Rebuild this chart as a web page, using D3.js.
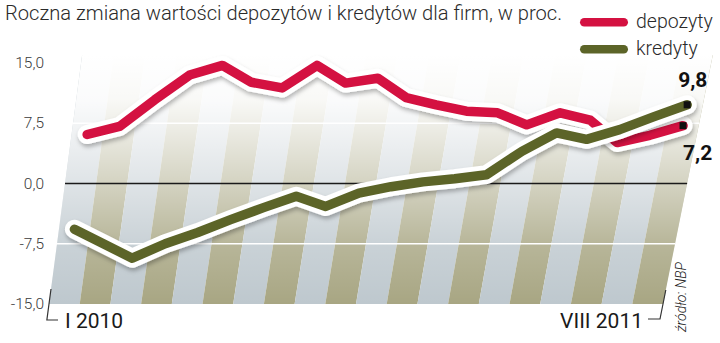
<!DOCTYPE html>
<html>
<head>
<meta charset="utf-8">
<script src="https://cdn.jsdelivr.net/npm/d3@7"></script>
<style>
  body { margin: 0; background: #fff; }
  svg { display: block; font-family: Roboto, "Noto Sans", sans-serif; }
</style>
</head>
<body>
<div id="chart"></div>
<script>
// Data
const months = ["I 2010", "II 2010", "III 2010", "IV 2010", "V 2010", "VI 2010", "VII 2010",
                "VIII 2010", "IX 2010", "X 2010", "XI 2010", "XII 2010", "I 2011", "II 2011",
                "III 2011", "IV 2011", "V 2011", "VI 2011", "VII 2011", "VIII 2011"];
const depozyty = [6.1, 7.1, 10.4, 13.5, 14.7, 12.6, 11.9, 14.7, 12.5, 13.1,
                  10.7, 9.8, 9.0, 8.8, 7.3, 8.8, 7.9, 5.1, 6.0, 7.2];
const kredyty = [-5.7, -7.5, -9.3, -7.5, -6.1, -4.5, -3.0, -1.6, -2.85, -1.2,
                 -0.4, 0.2, 0.6, 1.1, 4.0, 6.3, 5.5, 6.7, 8.3, 9.8];
const yTicks = [-15, -7.5, 0, 7.5, 15];
const seriesNames = ["depozyty", "kredyty"];
const colors = { depozyty: "#d41141", kredyty: "#5c6428" };

// Configuration
const width = 720, height = 343;
const plot = { left: 49, right: 663, top: 63, bottom: 304 };

const svg = d3.select("#chart")
    .append("svg")
    .attr("width", width)
    .attr("height", height);

const locale = d3.formatLocale({ decimal: ",", thousands: " ", grouping: [3], currency: ["", " zł"], minus: "-" });
const fmt = locale.format(".1f");

const x = d3.scaleBand().domain(months).range([plot.left, plot.right]);
const y = d3.scaleLinear().domain([-15, 15]).range([plot.bottom, plot.top]);

// slanted (perspective-like) projection of the plot area
function proj(xb, yy) {
    const k = 0.133 + (xb - plot.left) / (plot.right - plot.left) * 0.067;
    return [xb + (plot.bottom - yy) * k, yy];
}

const defs = svg.append("defs");
const fade = defs.append("linearGradient")
    .attr("id", "fade")
    .attr("gradientUnits", "userSpaceOnUse")
    .attr("x1", 0).attr("x2", 0).attr("y1", 55).attr("y2", plot.bottom);
[[0, 1], [0.18, 0.93], [0.27, 0.82], [0.52, 0.5], [0.76, 0.18], [1, 0]].forEach(([o, a]) => {
    fade.append("stop").attr("offset", o).attr("stop-color", "#fff").attr("stop-opacity", a);
});
defs.append("filter")
    .attr("id", "shadow")
    .attr("x", "-10%").attr("y", "-20%").attr("width", "120%").attr("height", "150%")
    .append("feDropShadow")
    .attr("dx", 1).attr("dy", 3).attr("stdDeviation", 2.2)
    .attr("flood-color", "#000").attr("flood-opacity", 0.28);

// Stripes
const bgTop = 55;
svg.append("g")
    .selectAll("polygon")
    .data(months)
    .join("polygon")
    .attr("points", d => {
        const x0 = x(d), x1 = x(d) + x.bandwidth();
        return [proj(x0, plot.bottom), proj(x1, plot.bottom), proj(x1, bgTop), proj(x0, bgTop)]
            .map(p => p.join(",")).join(" ");
    })
    .attr("fill", (d, i) => i % 2 ? "#a8a683" : "#bec8ce");

svg.append("polygon")
    .attr("points", [proj(plot.left, plot.bottom), proj(plot.right, plot.bottom),
                     proj(plot.right, bgTop), proj(plot.left, bgTop)].map(p => p.join(",")).join(" "))
    .attr("fill", "url(#fade)");

// Grid lines
svg.append("g")
    .selectAll("line")
    .data(yTicks.filter(d => d !== 0 && Math.abs(d) < 15))
    .join("line")
    .attr("x1", d => proj(plot.left, y(d))[0])
    .attr("x2", d => proj(plot.right, y(d))[0])
    .attr("y1", d => y(d))
    .attr("y2", d => y(d))
    .attr("stroke", "#fff")
    .attr("stroke-width", 1.5);

svg.append("line")
    .attr("x1", proj(plot.left, y(0))[0])
    .attr("x2", proj(plot.right, y(0))[0])
    .attr("y1", y(0))
    .attr("y2", y(0))
    .attr("stroke", "#1a1a1a")
    .attr("stroke-width", 1.6);

// Y axis
const yAxis = svg.append("g")
    .attr("transform", `translate(44, 0)`)
    .call(d3.axisLeft(y).tickValues(yTicks).tickSize(0).tickPadding(0).tickFormat(fmt));
yAxis.select(".domain").remove();
yAxis.selectAll("text")
    .attr("font-family", "Roboto, sans-serif")
    .attr("font-size", 15.5)
    .attr("font-weight", 300)
    .attr("fill", "#3a3a3a")
    .attr("dy", "0.3em");

// Lines
const line = d3.line().curve(d3.curveLinear);
const series = { depozyty, kredyty };
const lastPoints = {};
seriesNames.forEach(name => {
    const pts = series[name].map((v, i) => proj(x(months[i]) + x.bandwidth() / 2, y(v)));
    const g = svg.append("g");
    g.append("path")
        .attr("d", line(pts))
        .attr("fill", "none")
        .attr("stroke", "#fff")
        .attr("stroke-width", 19)
        .attr("stroke-linejoin", "round")
        .attr("stroke-linecap", "round")
        .attr("filter", "url(#shadow)");
    g.append("path")
        .attr("d", line(pts))
        .attr("fill", "none")
        .attr("stroke", colors[name])
        .attr("stroke-width", 9.5)
        .attr("stroke-linejoin", "round")
        .attr("stroke-linecap", "round");
    const last = pts[pts.length - 1];
    g.append("rect")
        .attr("x", last[0] - 3.5)
        .attr("y", last[1] - 3.5)
        .attr("width", 7)
        .attr("height", 7)
        .attr("fill", "#111");
    lastPoints[name] = last;
});

// End labels
const kLast = lastPoints.kredyty, dLast = lastPoints.depozyty;
svg.append("text")
    .attr("x", kLast[0] - 9)
    .attr("y", kLast[1] - 18)
    .attr("font-size", 21)
    .attr("font-weight", 700)
    .attr("fill", "#111")
    .text(fmt(kredyty[kredyty.length - 1]));
svg.append("text")
    .attr("x", dLast[0])
    .attr("y", dLast[1] + 34)
    .attr("font-size", 21)
    .attr("font-weight", 700)
    .attr("fill", "#111")
    .text(fmt(depozyty[depozyty.length - 1]));

// X labels and corner marks
const leftMark = [proj(plot.left, 289), proj(plot.left, 320), [58, 320]];
const rightMark = [proj(plot.right, 290), proj(plot.right, 319), [648, 319]];
[leftMark, rightMark].forEach(m => {
    svg.append("path")
        .attr("d", d3.line()(m))
        .attr("fill", "none")
        .attr("stroke", "#333")
        .attr("stroke-width", 1.2);
});
svg.append("text")
    .attr("x", x(months[0]) + 16)
    .attr("y", 328)
    .attr("font-size", 21)
    .attr("fill", "#1a1a1a")
    .text(months[0]);
svg.append("text")
    .attr("x", x(months[months.length - 1]) + x.bandwidth() - 20)
    .attr("y", 328)
    .attr("text-anchor", "end")
    .attr("font-size", 21)
    .attr("fill", "#1a1a1a")
    .text(months[months.length - 1]);

// Source
svg.append("text")
    .attr("transform", "translate(686, 332) rotate(-90)")
    .attr("font-size", 14)
    .attr("font-style", "italic")
    .attr("font-weight", 300)
    .attr("fill", "#222")
    .text("źródło: NBP");

// Title
svg.append("text")
    .attr("x", 5)
    .attr("y", 20)
    .attr("font-size", 21)
    .attr("font-weight", 300)
    .attr("fill", "#2a2a2a")
    .attr("textLength", 557)
    .attr("lengthAdjust", "spacingAndGlyphs")
    .text("Roczna zmiana wartości depozytów i kredytów dla firm, w proc.");

// Legend
const legend = svg.append("g").attr("transform", "translate(580, 18)");
seriesNames.forEach((name, i) => {
    legend.append("rect")
        .attr("x", 0)
        .attr("y", i * 27)
        .attr("width", 48)
        .attr("height", 8.5)
        .attr("rx", 4.25)
        .attr("fill", colors[name]);
    legend.append("text")
        .attr("x", 56)
        .attr("y", i * 27 + 10)
        .attr("font-size", 19.5)
        .attr("font-weight", 300)
        .attr("fill", "#2a2a2a")
        .text(name);
});
</script>
</body>
</html>
